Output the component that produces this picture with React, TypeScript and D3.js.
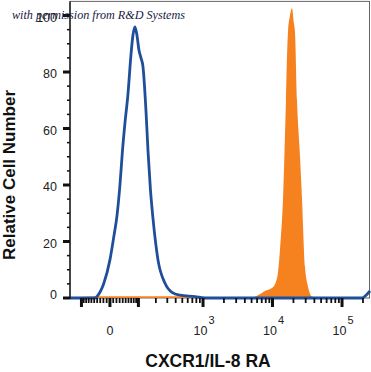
import { useEffect, useRef } from 'react';
import * as d3 from 'd3';

// isotype control (blue outline), intensity vs relative count
const isoX = [-160, -47.6, -37, -18.4, 0, 12.2, 21.5, 31, 39.1, 47.6, 58, 69.2, 76.9, 85, 93.6, 102, 111.8, 121.6, 137.8, 149, 164, 179, 216, 276, 352, 462, 765, 1065, 194100, 221600, 252500];
const isoY = [0, 0, 1, 5.3, 13.5, 22, 29, 40, 52, 62, 72, 86, 93, 96, 93, 88, 85, 82, 66, 52, 38, 28.7, 13.5, 5.3, 2, 1, 0.5, 0, 0, 1, 2.5];

// CXCR1 stained (orange fill)
const stainX = [-160, -37, 647, 903, 4745, 6180, 7790, 9830, 11600, 12810, 14150, 15620, 16690, 17840, 19080, 20370, 21060, 22500, 24870, 26580, 29340, 32430, 37040, 45170, 252500];
const stainY = [0, 0.6, 0.6, 0.2, 0, 1, 2.5, 3.5, 7, 17, 35, 70, 94, 100, 102.6, 97, 94, 70, 50, 35, 11, 4, 0.5, 0, 0];

const yTicks = d3.range(0, 101, 5);
const yLabels = [0, 20, 40, 60, 80, 100];
const xLabels = [
  { v: 0, base: '0', sup: '' },
  { v: 1000, base: '10', sup: '3' },
  { v: 10000, base: '10', sup: '4' },
  { v: 100000, base: '10', sup: '5' },
];

const W = 371;
const H = 372;
const C = 45.9;
const T = (v: number) => Math.asinh(v / (2 * C)) / Math.LN10;

export default function App() {
  const ref = useRef<SVGSVGElement | null>(null);

  useEffect(() => {
    const svg = d3.select(ref.current);
    svg.selectAll('*').remove();

    const left = 70, right = 370, top = 1.4, bottom = 298;
    const xt = d3.scaleLinear().domain([T(-160), T(252500)]).range([left, right]);
    const x = (v: number) => xt(T(v));
    const y = d3.scaleLinear().domain([0, 105]).range([bottom, top]);

    // frame
    svg.append('rect')
      .attr('x', left).attr('y', top)
      .attr('width', right - left - 0.5).attr('height', bottom - top)
      .attr('fill', 'none').attr('stroke', '#666').attr('stroke-width', 1);

    const stain = stainX.map((v, i) => [v, stainY[i]] as [number, number]);
    const iso = isoX.map((v, i) => [v, isoY[i]] as [number, number]);

    const area = d3.area<[number, number]>()
      .x(d => x(d[0])).y0(y(0)).y1(d => y(d[1]))
      .curve(d3.curveMonotoneX);
    svg.append('path').datum(stain)
      .attr('fill', '#f5821f').attr('d', area);

    const line = d3.line<[number, number]>()
      .x(d => x(d[0])).y(d => y(d[1]))
      .curve(d3.curveMonotoneX);
    svg.append('path').datum(iso)
      .attr('fill', 'none').attr('stroke', '#1f4f9a')
      .attr('stroke-width', 2.8).attr('stroke-linejoin', 'round')
      .attr('d', line);

    // y axis
    svg.append('line').attr('x1', left).attr('x2', left).attr('y1', top).attr('y2', bottom + 1)
      .attr('stroke', '#222').attr('stroke-width', 1.5);
    yTicks.forEach(t => {
      const major = t % 20 === 0;
      svg.append('line')
        .attr('x1', left - (major ? 7 : 3)).attr('x2', left)
        .attr('y1', y(t)).attr('y2', y(t))
        .attr('stroke', '#111').attr('stroke-width', major ? 3 : 1.5);
    });
    yLabels.forEach(t => {
      svg.append('text')
        .attr('x', 57).attr('y', y(t) + (t === 0 ? 1 : 6))
        .attr('text-anchor', 'end')
        .attr('font-family', 'Liberation Sans, Arial, sans-serif')
        .attr('font-size', 12.5).attr('fill', '#222')
        .text(t);
    });

    // x axis ticks
    const minor: number[] = [];
    d3.range(10, 100, 10).forEach(v => { minor.push(v, -v); });
    [100, 1000, 10000, 100000].forEach(d => {
      d3.range(2, 10).forEach(m => minor.push(m * d));
    });
    const major = [-100, 0, 100, 1000, 10000, 100000];
    const inDom = (v: number) => x(v) >= left && x(v) <= right;
    minor.filter(inDom).forEach(v => {
      svg.append('line')
        .attr('x1', x(v)).attr('x2', x(v)).attr('y1', bottom).attr('y2', bottom + 5)
        .attr('stroke', '#111').attr('stroke-width', 1.8);
    });
    major.filter(inDom).forEach(v => {
      svg.append('line')
        .attr('x1', x(v)).attr('x2', x(v)).attr('y1', bottom).attr('y2', bottom + 9)
        .attr('stroke', '#111').attr('stroke-width', 3);
    });

    xLabels.forEach(l => {
      const g = svg.append('text')
        .attr('x', x(l.v) + (l.sup ? 1 : 0)).attr('y', 335)
        .attr('text-anchor', 'middle')
        .attr('font-family', 'Liberation Sans, Arial, sans-serif')
        .attr('font-size', 12.5).attr('fill', '#222');
      g.append('tspan').text(l.base);
      if (l.sup) {
        g.append('tspan').attr('dy', -11).attr('dx', 1).attr('font-size', 11).text(l.sup);
      }
    });

    // titles
    svg.append('text')
      .attr('x', 208).attr('y', 367)
      .attr('text-anchor', 'middle')
      .attr('font-family', 'Liberation Sans, Arial, sans-serif')
      .attr('font-weight', 'bold').attr('font-size', 17.5).attr('fill', '#111')
      .text('CXCR1/IL-8 RA');
    svg.append('text')
      .attr('transform', `translate(15,175) rotate(-90)`)
      .attr('text-anchor', 'middle')
      .attr('font-family', 'Liberation Sans, Arial, sans-serif')
      .attr('font-weight', 'bold').attr('font-size', 17).attr('fill', '#111')
      .text('Relative Cell Number');

    // watermark (sits over the 100 label, as in the source image)
    svg.append('text')
      .attr('x', 12).attr('y', 19)
      .attr('textLength', 173).attr('lengthAdjust', 'spacingAndGlyphs')
      .attr('font-family', 'Liberation Serif, serif')
      .attr('font-style', 'italic').attr('font-size', 12.5).attr('fill', '#161b45')
      .text('with permission from R&D Systems');
  }, []);

  return (
    <svg ref={ref} width={W} height={H}
      style={{ position: 'absolute', left: 0, top: 0, background: '#fff' }} />
  );
}
